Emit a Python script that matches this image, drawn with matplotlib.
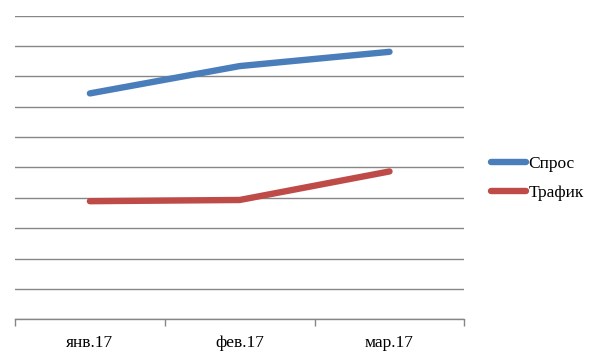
import matplotlib
matplotlib.use("Agg")
import matplotlib.pyplot as plt
import numpy as np

months = ["янв.17", "фев.17", "мар.17"]
spros = [7.44, 8.34, 8.81]
trafik = [3.89, 3.93, 4.87]

fig = plt.figure(figsize=(6, 3.59), dpi=100)
ax = fig.add_axes([0.025, 0.1106, 0.749, 0.8457])

x = np.arange(len(months))
ax.plot(x, spros, color="#4A7EBB", lw=4.6, solid_capstyle="round", solid_joinstyle="round", label="Спрос")
ax.plot(x, trafik, color="#BE4B48", lw=4.6, solid_capstyle="round", solid_joinstyle="round", label="Трафик")

ax.set_xlim(-0.5, 2.5)
ax.set_ylim(0, 10)
ax.set_yticks(np.arange(0, 11, 1))
ax.yaxis.grid(True, color="#868686", lw=1)
ax.set_axisbelow(True)
ax.tick_params(axis="y", left=False, labelleft=False)

ax.set_xticks(x)
ax.set_xticklabels(months, fontsize=12.5, family="Liberation Serif")
ax.tick_params(axis="x", which="major", length=0, pad=11)
ax.set_xticks([-0.5, 0.5, 1.5, 2.5], minor=True)
ax.tick_params(axis="x", which="minor", length=5, color="#868686", width=1)

for s in ["top", "right", "left"]:
    ax.spines[s].set_visible(False)
ax.spines["bottom"].set_color("#868686")
ax.spines["bottom"].set_linewidth(1)

ax.legend(loc="center left", bbox_to_anchor=(1.025, 0.465), frameon=False,
          prop={"family": "Liberation Serif", "size": 12.5},
          handlelength=2.0, handletextpad=0.15, labelspacing=0.75)

fig.savefig("out.png", dpi=100)
